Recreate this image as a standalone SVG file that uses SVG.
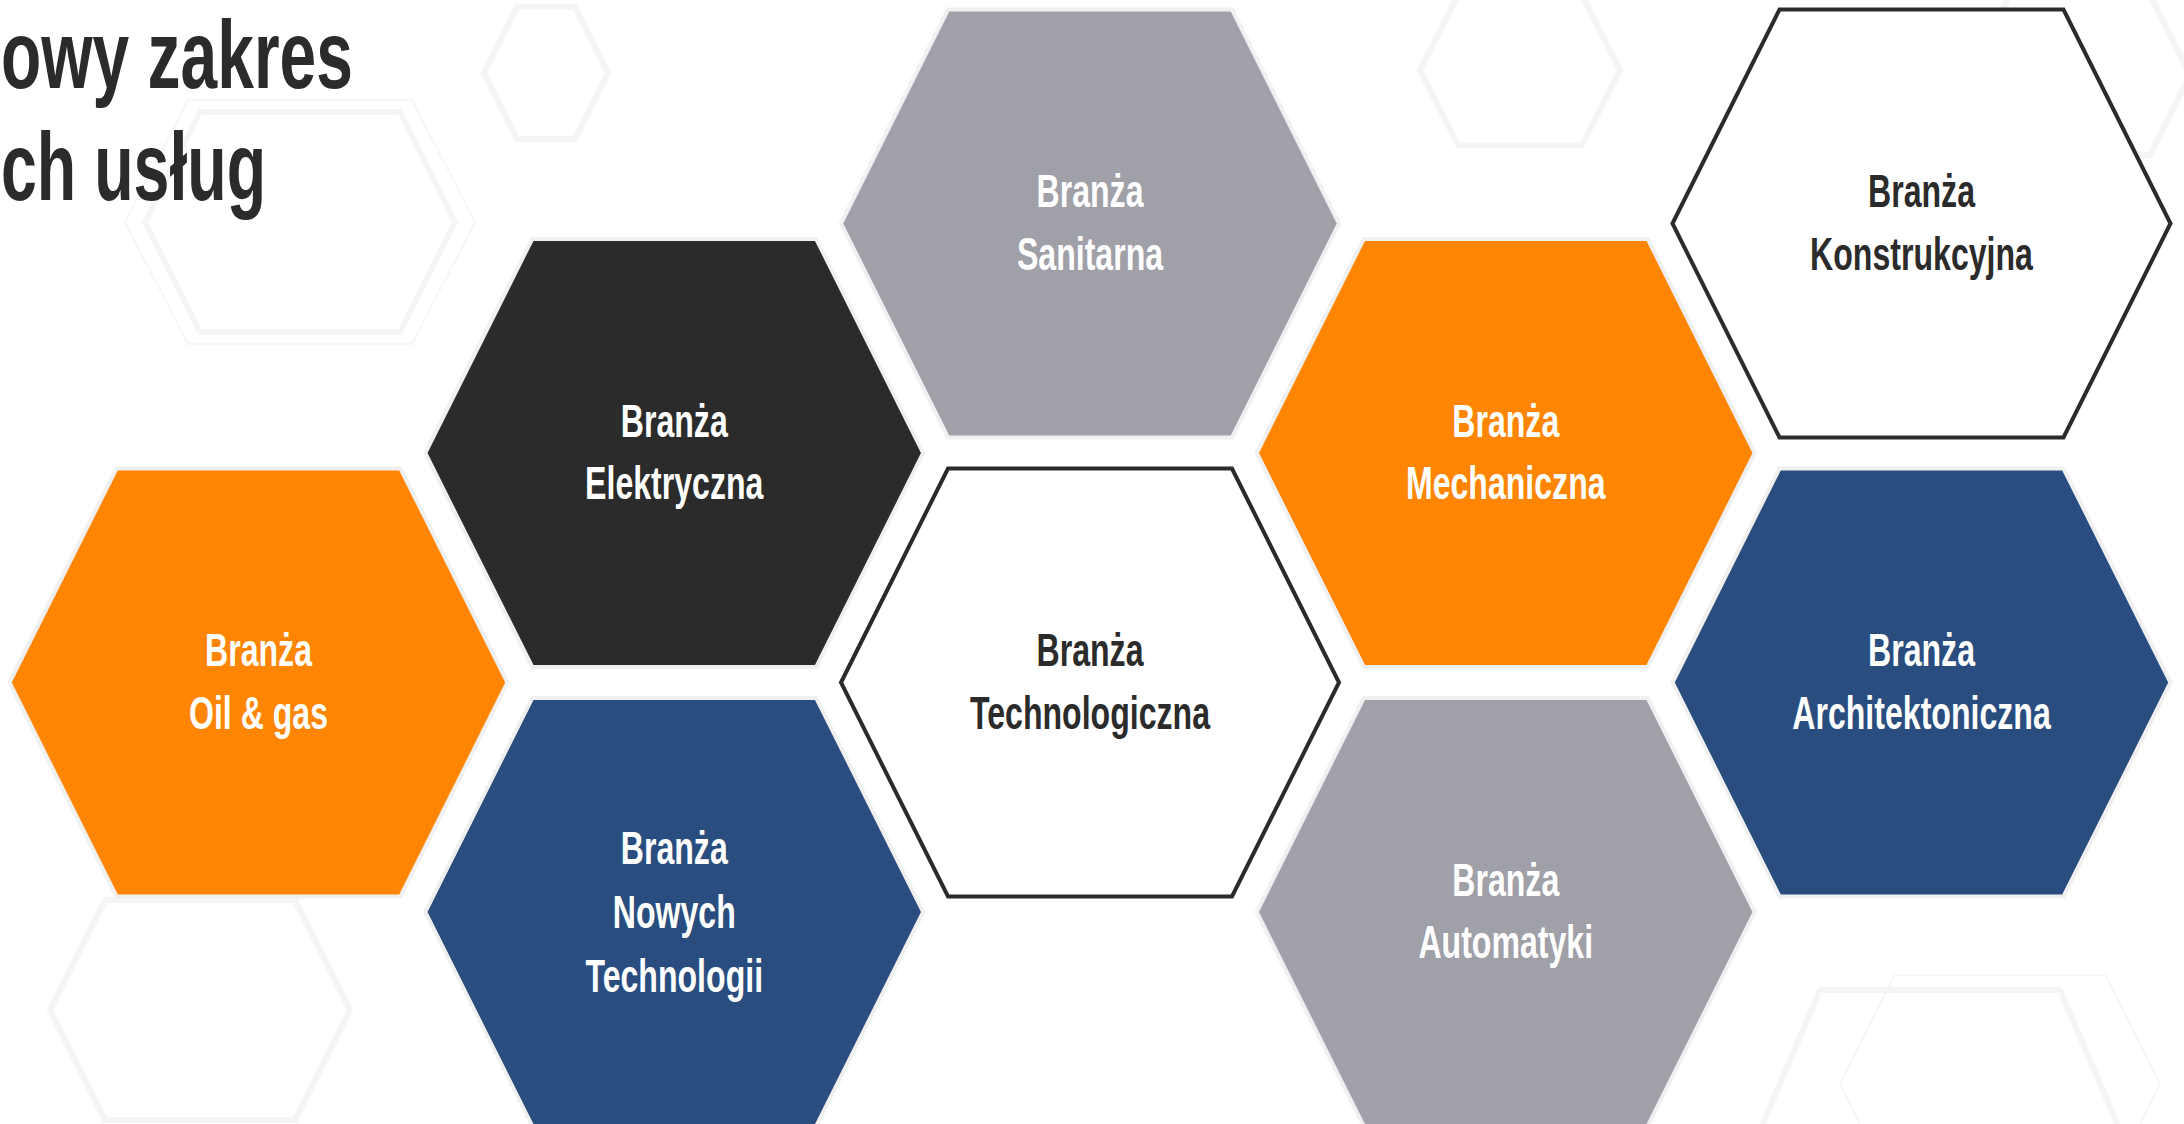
<svg xmlns="http://www.w3.org/2000/svg" width="2184" height="1124" viewBox="0 0 2184 1124">
  <style>
    .bg-hex { fill: none; stroke: #f5f5f6; stroke-width: 6; stroke-linejoin: round; }
    .bg-thin { fill: none; stroke: #f6f6f7; stroke-width: 2; stroke-linejoin: round; }
    .hex { stroke-width: 4; stroke-linejoin: miter; }
    .orange { fill: #FF8502; stroke: #f0f0f1; }
    .dark { fill: #2B2B2B; stroke: #f0f0f1; }
    .grey { fill: #A0A0A8; stroke: #f0f0f1; }
    .blue { fill: #294D7E; stroke: #f0f0f1; }
    .outline { fill: #ffffff; stroke: #2B2B2B; }
    .lbl { font-family: "Liberation Sans", Arial, sans-serif; font-weight: bold; font-size: 46.5px; text-anchor: middle; }
    .light { fill: #ffffff; }
    .ink { fill: #2B2B2B; }
    .title { font-family: "Liberation Sans", Arial, sans-serif; font-weight: bold; font-size: 97px; fill: #2B2B2B; }
  </style>
  <defs>
    <!-- flat-top hexagon shared by every tile, centred on the origin -->
    <polygon id="hexShape" points="-249,0 -142,-214 142,-214 249,0 142,214 -142,214"/>
  </defs>

  <rect width="2184" height="1124" fill="#ffffff"/>

  <!-- faint rounded hexagon texture behind the tiles -->
  <g id="background">
    <polygon class="bg-hex" points="145,222 200,112 400,112 455,222 400,332 200,332"/>
    <polygon class="bg-thin" points="125,222 188,100 412,100 475,222 412,344 188,344"/>
    <polygon class="bg-hex" points="484,73 517,7 575,7 608,73 575,139 517,139"/>
    <polygon class="bg-hex" points="1420,70 1458,-5 1582,-5 1620,70 1582,145 1458,145"/>
    <polygon class="bg-hex" points="1970,75 2010,-5 2150,-5 2190,75 2150,155 2010,155"/>
    <polygon class="bg-hex" points="50,1010 105,900 295,900 350,1010 295,1120 105,1120"/>
    <polygon class="bg-thin" points="1840,1085 1895,975 2105,975 2160,1085 2105,1195 1895,1195"/>
    <polygon class="bg-hex" points="1760,1130 1820,990 2060,990 2120,1130"/>
  </g>

  <!-- heading, running in from the left edge -->
  <g id="heading">
    <text class="title" transform="translate(1,88) scale(0.68,1)">owy zakres</text>
    <text class="title" transform="translate(1,200) scale(0.665,1)">ch usług</text>
  </g>

  <g id="connectors"/>

  <g id="node-oil-gas">
    <use href="#hexShape" class="hex orange" x="258.5" y="682.5"/>
    <g transform="translate(258.5,682.5) scale(0.69,1)">
      <text class="lbl light" y="-16.5">Branża</text>
      <text class="lbl light" y="46.5">Oil &amp; gas</text>
    </g>
  </g>

  <g id="node-elektryczna">
    <use href="#hexShape" class="hex dark" x="674.25" y="453"/>
    <g transform="translate(674.25,453) scale(0.69,1)">
      <text class="lbl light" y="-16.5">Branża</text>
      <text class="lbl light" y="46.5">Elektryczna</text>
    </g>
  </g>

  <g id="node-nowych-technologii">
    <use href="#hexShape" class="hex blue" x="674.25" y="912"/>
    <g transform="translate(674.25,912) scale(0.69,1)">
      <text class="lbl light" y="-48">Branża</text>
      <text class="lbl light" y="16">Nowych</text>
      <text class="lbl light" y="80">Technologii</text>
    </g>
  </g>

  <g id="node-sanitarna">
    <use href="#hexShape" class="hex grey" x="1090" y="223.5"/>
    <g transform="translate(1090,223.5) scale(0.69,1)">
      <text class="lbl light" y="-16.5">Branża</text>
      <text class="lbl light" y="46.5">Sanitarna</text>
    </g>
  </g>

  <g id="node-technologiczna">
    <use href="#hexShape" class="hex outline" x="1090" y="682.5"/>
    <g transform="translate(1090,682.5) scale(0.69,1)">
      <text class="lbl ink" y="-16.5">Branża</text>
      <text class="lbl ink" y="46.5">Technologiczna</text>
    </g>
  </g>

  <g id="node-mechaniczna">
    <use href="#hexShape" class="hex orange" x="1505.75" y="453"/>
    <g transform="translate(1505.75,453) scale(0.69,1)">
      <text class="lbl light" y="-16.5">Branża</text>
      <text class="lbl light" y="46.5">Mechaniczna</text>
    </g>
  </g>

  <g id="node-automatyki">
    <use href="#hexShape" class="hex grey" x="1505.75" y="912"/>
    <g transform="translate(1505.75,912) scale(0.69,1)">
      <text class="lbl light" y="-16.5">Branża</text>
      <text class="lbl light" y="46.5">Automatyki</text>
    </g>
  </g>

  <g id="node-konstrukcyjna">
    <use href="#hexShape" class="hex outline" x="1921.5" y="223.5"/>
    <g transform="translate(1921.5,223.5) scale(0.69,1)">
      <text class="lbl ink" y="-16.5">Branża</text>
      <text class="lbl ink" y="46.5">Konstrukcyjna</text>
    </g>
  </g>

  <g id="node-architektoniczna">
    <use href="#hexShape" class="hex blue" x="1921.5" y="682.5"/>
    <g transform="translate(1921.5,682.5) scale(0.69,1)">
      <text class="lbl light" y="-16.5">Branża</text>
      <text class="lbl light" y="46.5">Architektoniczna</text>
    </g>
  </g>
</svg>
